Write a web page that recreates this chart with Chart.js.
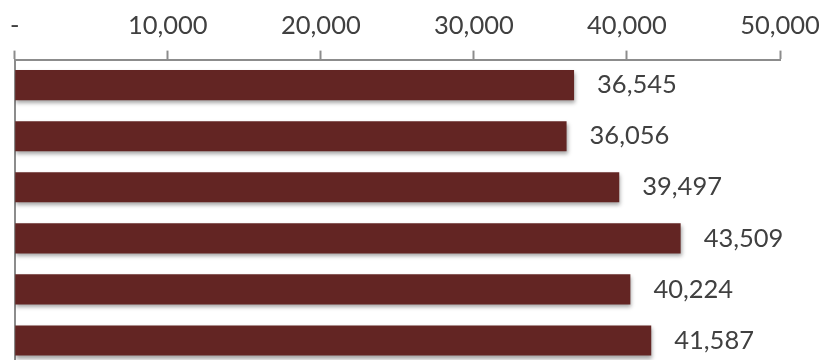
<!DOCTYPE html>
<html>
<head>
<meta charset="utf-8">
<script src="https://cdn.jsdelivr.net/npm/chart.js@4"></script>
<style>
  html, body { margin: 0; padding: 0; background: #fff; overflow: hidden; }
  #wrap { width: 834px; height: 366px; position: relative; }
</style>
</head>
<body>
<div id="wrap"><canvas id="barchart"></canvas></div>
<script>
// values, top to bottom
const categories = ['Item 1', 'Item 2', 'Item 3', 'Item 4', 'Item 5', 'Item 6'];
const values = [36545, 36056, 39497, 43509, 40224, 41587];
const axisTicks = [0, 10000, 20000, 30000, 40000, 50000];

const barColor = '#632523';
const textColor = '#404040';
const axisColor = '#8c8c8c';

const fmt = (v) => v === 0 ? '-' : v.toLocaleString('en-US');

// soft shadow under the bars
const shadowPlugin = {
    id: 'barShadow',
    beforeDatasetsDraw(chart) {
        const c = chart.ctx;
        c.save();
        c.shadowColor = 'rgba(0,0,0,0.35)';
        c.shadowBlur = 4;
        c.shadowOffsetY = 3;
        c.shadowOffsetX = 1;
    },
    afterDatasetsDraw(chart) {
        chart.ctx.restore();
    }
};

// value labels right of each bar
const valueLabels = {
    id: 'valueLabels',
    afterDraw(chart) {
        const c = chart.ctx;
        const meta = chart.getDatasetMeta(0);
        c.save();
        c.font = '25.5px Lato';
        c.fillStyle = textColor;
        c.textAlign = 'left';
        c.textBaseline = 'middle';
        meta.data.forEach((bar, i) => {
            c.fillText(fmt(values[i]), bar.x + 23, bar.y);
        });
        c.restore();
    }
};

const ctx = document.getElementById('barchart').getContext('2d');
const myChart = new Chart(ctx, {
    type: 'bar',
    data: {
        labels: categories,
        datasets: [{
            data: values,
            backgroundColor: barColor,
            borderWidth: 0,
            barPercentage: 0.59,
            categoryPercentage: 1
        }]
    },
    plugins: [shadowPlugin, valueLabels],
    options: {
        indexAxis: 'y',
        responsive: true,
        maintainAspectRatio: false,
        animation: false,
        layout: { padding: { left: 5, right: 54, top: 0, bottom: 0 } },
        plugins: {
            legend: { display: false },
            tooltip: { enabled: false }
        },
        scales: {
            x: {
                position: 'top',
                min: 0,
                max: 50000,
                afterBuildTicks(scale) {
                    scale.ticks = axisTicks.map(v => ({ value: v }));
                },
                grid: {
                    drawOnChartArea: false,
                    drawTicks: true,
                    tickLength: 9,
                    tickColor: axisColor,
                    tickWidth: 2
                },
                border: { display: true, color: axisColor, width: 2 },
                ticks: {
                    color: textColor,
                    font: { family: 'Lato', size: 25.5 },
                    padding: 10,
                    maxRotation: 0,
                    callback: (v) => fmt(v)
                }
            },
            y: {
                grid: { display: false },
                border: { display: true, color: axisColor, width: 2 },
                ticks: { display: false }
            }
        }
    }
});
</script>
</body>
</html>
